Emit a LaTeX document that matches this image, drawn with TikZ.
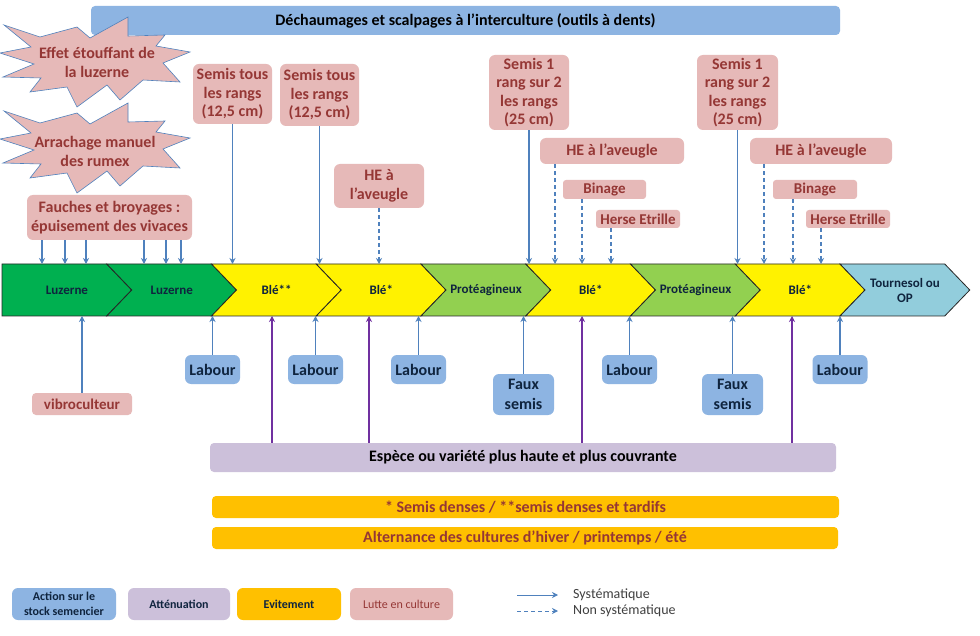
\documentclass[tikz,border=0pt]{standalone}
\usepackage{fontspec}
\setmainfont{Carlito}
\usetikzlibrary{arrows.meta}
\definecolor{bleubox}{RGB}{141,180,226}
\definecolor{rosebox}{RGB}{230,185,184}
\definecolor{rougetxt}{RGB}{149,55,53}
\definecolor{lavande}{RGB}{204,192,218}
\definecolor{orangebox}{RGB}{255,192,0}
\definecolor{vertfonce}{RGB}{0,176,80}
\definecolor{vertclair}{RGB}{146,208,80}
\definecolor{bleuclair}{RGB}{146,205,220}
\definecolor{fleche}{RGB}{79,129,189}
\definecolor{flecheviolet}{RGB}{112,48,160}
\definecolor{bleunuit}{RGB}{15,36,62}
\definecolor{gristxt}{RGB}{64,64,64}
\begin{document}
\begin{tikzpicture}[x=1pt,y=-1pt,
  boite/.style={rounded corners=6pt,inner sep=1pt,align=center,
    font=\bfseries\fontsize{16}{18.5}\selectfont},
  rose/.style={boite,fill=rosebox,text=rougetxt},
  petitrose/.style={rose,rounded corners=3pt,font=\bfseries\fontsize{15}{18}\selectfont},
  bleu/.style={boite,fill=bleubox,text=bleunuit,font=\bfseries\fontsize{16}{19.5}\selectfont},
  bande/.style={boite,rounded corners=4pt,font=\bfseries\fontsize{16}{18}\selectfont},
  legende/.style={boite,minimum height=32pt,font=\bfseries\fontsize{12}{15}\selectfont},
  eclat/.style={fill=rosebox,draw=fleche,line width=0.6pt},
  etoile/.style={align=center,text=rougetxt,font=\bfseries\fontsize{16}{19}\selectfont},
  culture/.style={align=center,text=bleunuit,font=\bfseries\fontsize{13}{15}\selectfont},
  fl/.style={-{Stealth[length=6pt,width=6pt]},draw=fleche,line width=1.1pt},
  flpt/.style={fl,dash pattern=on 4pt off 3pt},
  flv/.style={fl,draw=flecheviolet}]
\fill[white] (0,0) rectangle (980,636);
\useasboundingbox (0,0) rectangle (980,636);
\coordinate (haut) at (0,264);
\coordinate (bas) at (0,316);

% interculture
\node[bande,fill=bleubox,text=black,minimum width=749pt,minimum height=29pt]
  (dechaumage) at (465.5,20.5) {Déchaumages et scalpages à l’interculture (outils à dents)};

% explosions
\foreach \dy in {0,86}
  \path[eclat,shift={(0,\dy)}] (4,25) -- (40,37) -- (77,27) -- (90,38) -- (128,17)
    -- (128,36) -- (165,35) -- (156,46) -- (190,52) -- (163,63) -- (180,82)
    -- (143,80) -- (120,100) -- (107,85) -- (77,107) -- (67,87) -- (30,92)
    -- (41,78) -- (3,77) -- (34,64) -- (0,53) -- (31,47) -- cycle;
\node[etoile] (etouffant) at (97,62) {Effet étouffant de\\la luzerne};
\node[etoile] (rumex) at (95,151) {Arrachage manuel\\des rumex};

% lutte en culture
\node[rose,minimum width=165pt,minimum height=45pt] (fauches) at (109.5,217.5)
  {Fauches et broyages :\\épuisement des vivaces};
\node[rose,minimum width=79pt,minimum height=60pt] (semisA) at (232.5,94) {Semis tous\\les rangs\\(12,5 cm)};
\node[rose,minimum width=79pt,minimum height=62pt] (semisB) at (319.5,95) {Semis tous\\les rangs\\(12,5 cm)};
\node[rose,minimum width=90pt,minimum height=44pt] (heA) at (379,186) {HE à\\l’aveugle};
\node[rose,minimum width=80pt,minimum height=75pt] (rangA) at (529,92.5) {Semis 1\\rang sur 2\\les rangs\\(25 cm)};
\node[rose,minimum width=144pt,minimum height=26pt] (heB) at (612,151) {HE à l’aveugle};
\node[petitrose,minimum width=83pt,minimum height=19pt] (binageA) at (604.5,189.5) {Binage};
\node[petitrose,minimum width=84pt,minimum height=18pt] (herseA) at (638,219) {Herse Etrille};
\node[rose,minimum width=81pt,minimum height=75pt] (rangB) at (737.5,92.5) {Semis 1\\rang sur 2\\les rangs\\(25 cm)};
\node[rose,minimum width=142pt,minimum height=26pt] (heC) at (821,151) {HE à l’aveugle};
\node[petitrose,minimum width=84pt,minimum height=19pt] (binageB) at (815,189.5) {Binage};
\node[petitrose,minimum width=84pt,minimum height=18pt] (herseB) at (848,219) {Herse Etrille};
\node[petitrose,rounded corners=4pt,minimum width=100pt,minimum height=22pt] (vibro) at (82,404) {vibroculteur};

% rotation
\foreach \x/\coul/\lab [count=\i] in {2/vertfonce/Luzerne,106.75/vertfonce/Luzerne,
    211.5/yellow/Blé**,316.25/yellow/Blé*,421/vertclair/Protéagineux,525.75/yellow/Blé*,
    630.5/vertclair/Protéagineux,735.25/yellow/Blé*,840/bleuclair/{Tournesol ou\\OP}}{
  \pgfmathsetmacro\creux{\i==1 ? 0 : 25}
  \path[fill=\coul,draw=black!85,line width=0.8pt]
    (\x,264) -- ({\x+104.75},264) -- ({\x+129.75},290) -- ({\x+104.75},316)
    -- (\x,316) -- ({\x+\creux},290) -- cycle;
  \node[culture] (c\i) at ({\x+65},290) {\lab};
}

% stock semencier
\node[bleu,minimum width=55pt,minimum height=29pt] (labourA) at (212.5,369.5) {Labour};
\node[bleu,minimum width=55pt,minimum height=29pt] (labourB) at (315.5,369.5) {Labour};
\node[bleu,minimum width=55pt,minimum height=29pt] (labourC) at (418.5,369.5) {Labour};
\node[bleu,minimum width=61pt,minimum height=41pt] (fauxA) at (523.5,394.5) {Faux\\semis};
\node[bleu,minimum width=55pt,minimum height=29pt] (labourD) at (629.5,369.5) {Labour};
\node[bleu,minimum width=61pt,minimum height=41pt] (fauxB) at (732.5,394.5) {Faux\\semis};
\node[bleu,minimum width=55pt,minimum height=29pt] (labourE) at (840,369.5) {Labour};

% attenuation et evitement
\node[bande,fill=lavande,text=black,minimum width=626pt,minimum height=29pt] (espece) at (523,457.5)
  {Espèce ou variété plus haute et plus couvrante};
\node[bande,fill=orangebox,text=rougetxt,minimum width=627pt,minimum height=22pt] (dense) at (525.5,507)
  {* Semis denses / **semis denses et tardifs};
\node[bande,fill=orangebox,text=rougetxt,minimum width=626pt,minimum height=22pt] (alterne) at (525,538)
  {Alternance des cultures d’hiver / printemps / été};

% fleches du haut
\foreach \x in {42,65,86,144,166,181}
  \draw[fl] (\x,0 |- fauches.south) -- (\x,0 |- haut);
\foreach \n in {semisA,semisB,rangA,rangB}
  \draw[fl] (\n.south) -- (\n.south |- haut);
\draw[flpt] (heA.south) -- (heA.south |- haut);
\draw[flpt] (555,0 |- heB.south) -- (555,0 |- haut);
\draw[flpt] (582,0 |- binageA.south) -- (582,0 |- haut);
\draw[flpt] (611,0 |- herseA.south) -- (611,0 |- haut);
\draw[flpt] (764,0 |- heC.south) -- (764,0 |- haut);
\draw[flpt] (793,0 |- binageB.south) -- (793,0 |- haut);
\draw[flpt] (821,0 |- herseB.south) -- (821,0 |- haut);

% fleches du bas
\foreach \n in {vibro,labourA,labourB,labourC,fauxA,labourD,fauxB,labourE}
  \draw[fl] (\n.north) -- (\n.north |- bas);
\foreach \x in {272,369,582,792}
  \draw[flv] (\x,0 |- espece.north) -- (\x,0 |- bas);

% legende
\node[legende,fill=bleubox,text=bleunuit,minimum width=104pt] (lgaction) at (64,604) {Action sur le\\stock semencier};
\node[legende,fill=lavande,text=bleunuit,minimum width=102pt] (lgattenue) at (179,604) {Atténuation};
\node[legende,fill=orangebox,text=bleunuit,minimum width=104pt] (lgevite) at (289,604) {Evitement};
\node[legende,fill=rosebox,text=rougetxt,minimum width=103pt,font=\fontsize{12}{15}\selectfont] (lglutte) at (401.5,604) {Lutte en culture};
\node[anchor=west,inner sep=1pt,text=gristxt,font=\fontsize{14}{16}\selectfont] (syst) at (572,595) {Systématique};
\node[anchor=west,inner sep=1pt,text=gristxt,font=\fontsize{14}{16}\selectfont] (nonsyst) at (572,611) {Non systématique};
\draw[fl,line width=1pt] ([xshift=-55pt]syst.west) -- ([xshift=-14pt]syst.west);
\draw[flpt,line width=1pt] ([xshift=-55pt]nonsyst.west) -- ([xshift=-14pt]nonsyst.west);
\end{tikzpicture}
\end{document}
